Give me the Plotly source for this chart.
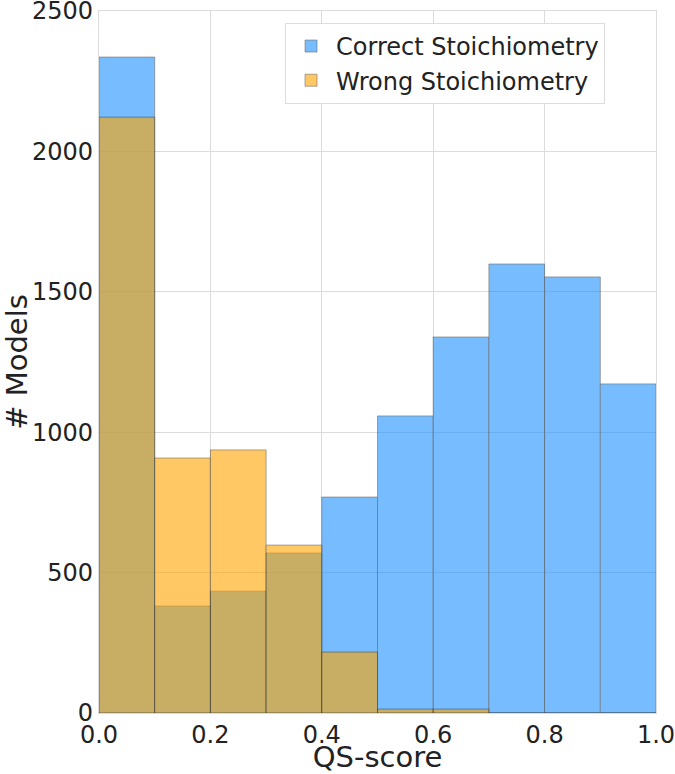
import plotly.graph_objects as go

bin_edges = [0.0, 0.1, 0.2, 0.3, 0.4, 0.5, 0.6, 0.7, 0.8, 0.9, 1.0]
correct_counts = [2336, 381, 434, 570, 769, 1058, 1339, 1599, 1553, 1172]
wrong_counts = [2122, 908, 937, 598, 217, 14, 14, 0, 0, 0]

centers = [(a + b) / 2 for a, b in zip(bin_edges[:-1], bin_edges[1:])]
widths = [b - a for a, b in zip(bin_edges[:-1], bin_edges[1:])]

font = dict(family="DejaVu Sans", size=24, color="#222222")
edge = dict(color="rgba(0,0,0,0.55)", width=1)

fig = go.Figure()
fig.add_trace(go.Bar(
    x=centers, y=correct_counts, width=widths,
    name="Correct Stoichiometry",
    marker=dict(color="#1E90FF", line=edge),
    opacity=0.6,
))
fig.add_trace(go.Bar(
    x=centers, y=wrong_counts, width=widths,
    name="Wrong Stoichiometry",
    marker=dict(color="#FFA500", line=edge),
    opacity=0.6,
))

fig.update_layout(
    width=675, height=774,
    margin=dict(l=99, r=19, t=11, b=61, autoexpand=False),
    barmode="overlay",
    plot_bgcolor="white",
    paper_bgcolor="white",
    font=font,
    legend=dict(
        x=0.334, y=0.983, xanchor="left", yanchor="top",
        bgcolor="white", bordercolor="#dddddd", borderwidth=1,
        font=dict(family="DejaVu Sans", size=24, color="#222222"),
        itemwidth=40,
    ),
)
fig.update_xaxes(
    range=[0, 1], tickvals=[0, 0.2, 0.4, 0.6, 0.8, 1.0],
    ticktext=["0.0", "0.2", "0.4", "0.6", "0.8", "1.0"],
    showgrid=True, gridcolor="#dcdcdc", gridwidth=1.2,
    showline=True, linecolor="#dcdcdc", mirror=True, linewidth=1.2,
    zeroline=False, ticks="", automargin=False, ticklabeloverflow="allow",
    title=dict(text="QS-score", standoff=6),
)
fig.update_yaxes(
    range=[0, 2500], tickvals=[0, 500, 1000, 1500, 2000, 2500],
    showgrid=True, gridcolor="#dcdcdc", gridwidth=1.2,
    showline=True, linecolor="#dcdcdc", mirror=True, linewidth=1.2,
    zeroline=False, ticks="", automargin=False, ticklabeloverflow="allow",
    title=dict(text="# Models", standoff=8),
)

# page body has a default 8px margin; drop it so the figure fills the window
fig.write_html(
    "out.html",
    config={"displayModeBar": False},
    post_script="document.body.style.margin = '0px';",
)
